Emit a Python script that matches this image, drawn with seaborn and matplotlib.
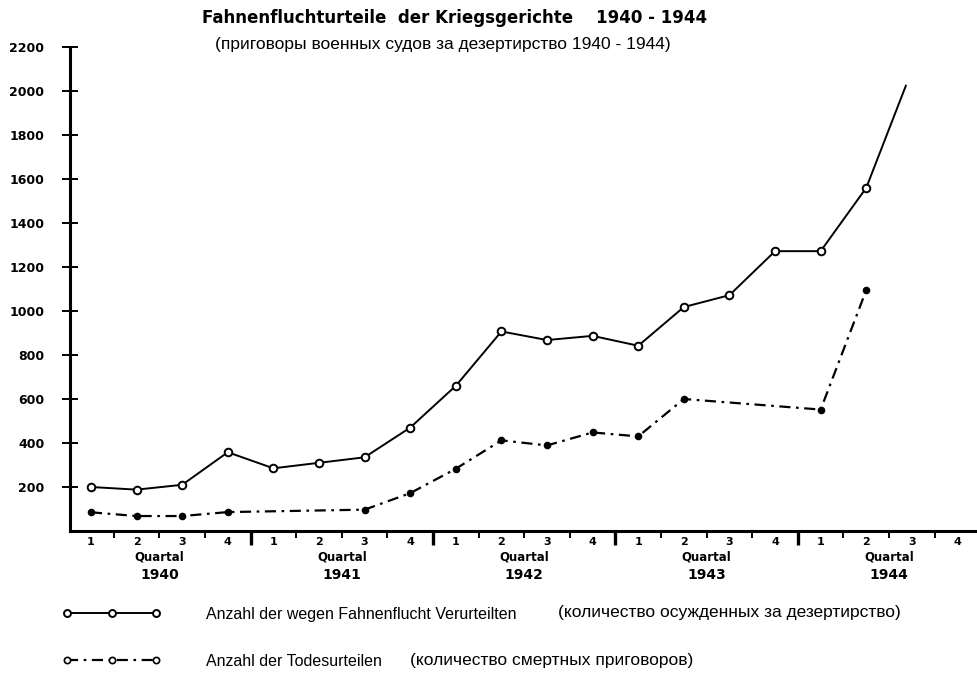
# %%
import numpy as np
import pandas as pd
import matplotlib
matplotlib.use('Agg')
import matplotlib.pyplot as plt
from matplotlib.lines import Line2D
from matplotlib import font_manager
import seaborn as sns

# %% values, quarters 1940 Q1 ... 1944 Q4
years = [1940, 1941, 1942, 1943, 1944]
quarters = ['1', '2', '3', '4']
convicted = [200, 188, 210, 358,
             285, 310, 335, 470,
             660, 907, 868, 887,
             842, 1018, 1072, 1272,
             1272, 1560, np.nan, np.nan]
death_sentences = [85, 68, 68, 86,
                   np.nan, np.nan, 97, 172,
                   283, 412, 389, 448,
                   430, 600, np.nan, np.nan,
                   552, 1095, np.nan, np.nan]
# solid curve runs on towards 1944 Q3 and stops there without a marker
convicted_tail_x = 17.87
convicted_tail_y = 2025

title = 'Fahnenfluchturteile  der Kriegsgerichte    1940 - 1944'
subtitle = '(приговоры военных судов за дезертирство 1940 - 1944)'
legend_de = ['Anzahl der wegen Fahnenflucht Verurteilten',
             'Anzahl der Todesurteilen']
legend_ru = ['(количество осужденных за дезертирство)',
             '(количество смертных приговоров)']

# %% style and fonts
sns.set_style('ticks')
names = {f.name for f in font_manager.fontManager.ttflist}
if 'Liberation Sans Narrow' in names:
    narrow, de_size, ru_size = 'Liberation Sans Narrow', 14, 14
else:
    narrow, de_size, ru_size = 'Liberation Sans', 11.5, 12.5
plt.rcParams['font.family'] = ['DejaVu Sans']
for key in ['text.color', 'xtick.color', 'ytick.color',
            'axes.edgecolor', 'axes.labelcolor']:
    plt.rcParams[key] = 'black'

n_q = len(years) * len(quarters)
df = pd.DataFrame({'q': np.arange(n_q),
                   'convicted': convicted,
                   'death': death_sentences})

fig = plt.figure(figsize=(9.78, 6.74), dpi=100)
ax = fig.add_axes([70 / 978, 1 - 531 / 674, 908 / 978, 484 / 674])

# %% solid line (convicted)
conv = df[['q', 'convicted']].dropna()
conv_line = pd.concat([conv, pd.DataFrame({'q': [convicted_tail_x],
                                           'convicted': [convicted_tail_y]})])
sns.lineplot(data=conv_line, x='q', y='convicted', color='black',
             linewidth=1.4, estimator=None, sort=False, ax=ax)
sns.scatterplot(data=conv, x='q', y='convicted', marker='o', s=30,
                facecolor='white', edgecolor='black', linewidth=1.4,
                ax=ax, zorder=3)

# %% dash-dot line (death sentences)
death = df[['q', 'death']].dropna()
sns.lineplot(data=death, x='q', y='death', color='black', linewidth=1.6,
             estimator=None, sort=False, ax=ax)
ax.lines[-1].set_linestyle((0, (5, 2.5, 1.2, 2.5)))
sns.scatterplot(data=death, x='q', y='death', marker='o', s=20,
                color='black', edgecolor='black', linewidth=1,
                ax=ax, zorder=3)

# %% axes
ax.set_xlim(-0.46, 19.45)
ax.set_ylim(0, 2200)
ax.set_xlabel('')
ax.set_ylabel('')
sns.despine(ax=ax)
for s in ['left', 'bottom']:
    ax.spines[s].set_linewidth(2.2)

ax.set_yticks(range(200, 2201, 200))
ax.set_yticklabels([str(v) for v in range(200, 2201, 200)],
                   fontsize=9, fontweight='bold')
ax.tick_params(axis='y', direction='inout', length=11, width=1.4, pad=13)

ax.set_xticks(np.arange(n_q))
ax.set_xticklabels(quarters * len(years), fontsize=8, fontweight='bold')
ax.tick_params(axis='x', which='major', length=0, pad=4)
year_bounds = [4 * i - 0.5 for i in range(1, len(years))]
minor = [q + 0.5 for q in range(n_q - 1) if (q + 0.5) not in year_bounds]
ax.set_xticks(minor, minor=True)
ax.tick_params(axis='x', which='minor', direction='out', length=5, width=1.4)

sec = ax.secondary_xaxis(0)
sec.set_xticks(year_bounds)
sec.tick_params(length=10, width=2.4, labelbottom=False)
sec.spines['bottom'].set_visible(False)

for i, yr in enumerate(years):
    xc = 4 * i + 1.5
    ax.text(xc, -0.054, 'Quartal', transform=ax.get_xaxis_transform(),
            ha='center', va='center', fontsize=8.5, fontweight='bold')
    ax.text(xc, -0.091, str(yr), transform=ax.get_xaxis_transform(),
            ha='center', va='center', fontsize=10, fontweight='bold')

# %% titles
fig.text(455 / 978, 1 - 18 / 674, title, ha='center', va='center',
         fontsize=12, fontweight='bold')
fig.text(443 / 978, 1 - 45 / 674, subtitle, ha='center', va='center',
         fontsize=ru_size, family=narrow)

# %% legend
handles = [Line2D([0], [0], color='black', lw=1.4, marker='o', ms=5,
                  mfc='white', mec='black', mew=1.4),
           Line2D([0], [0], color='black', lw=1.6, ls=(0, (5, 2.5, 1.2, 2.5)),
                  marker='o', ms=4.5, mfc='white', mec='black', mew=1.2)]
fig.legend(handles, legend_de, loc='upper left',
           bbox_to_anchor=(62 / 978, 1 - 607 / 674), frameon=False,
           numpoints=3, handlelength=6.2, handletextpad=2.8,
           labelspacing=2.0, borderpad=0, borderaxespad=0,
           prop={'family': narrow, 'size': de_size})
fig.text(558 / 978, 1 - 612 / 674, legend_ru[0], ha='left', va='center',
         fontsize=ru_size, family=narrow)
fig.text(410 / 978, 1 - 660 / 674, legend_ru[1], ha='left', va='center',
         fontsize=ru_size, family=narrow)

fig.savefig('out.png', dpi=100, facecolor='white')
